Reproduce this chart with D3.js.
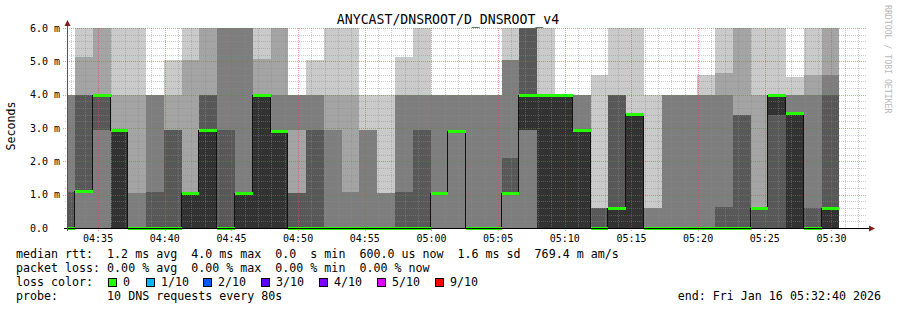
<!DOCTYPE html>
<html><head><meta charset="utf-8">
<script src="https://cdn.jsdelivr.net/npm/d3@7"></script>
<style>
body{margin:0;background:#fff}
svg{display:block}
text{font-family:"DejaVu Sans Mono",monospace;white-space:pre}
</style>
</head><body>
<svg id="c" width="897" height="310"></svg>
<script>
const title = "ANYCAST/DNSROOT/D_DNSROOT_v4";
const yAxisLabel = "Seconds";
const timeStart = "04:32:40", timeEnd = "05:32:40";
const firstStepEnd = "04:33:16";
const stepSeconds = 80;
const xTickLabels = ["04:35","04:40","04:45","04:50","04:55","05:00","05:05","05:10","05:15","05:20","05:25","05:30"];
const yTickValues = [0,1,2,3,4,5,6];
const yTickLabels = ["0.0","1.0 m","2.0 m","3.0 m","4.0 m","5.0 m","6.0 m"];
// ten ping RTT series cp1..cp10 (ms) per 80 s step; median = cp6
const pings = [
 [0,0,0,0,0,0,1.07,4.0,4.0,4.0],
 [0,0,0,1.1,1.1,1.1,4.0,4.0,5.12,6.0],
 [0,0,0,2.94,4.0,4.0,4.0,4.0,6.0,6.0],
 [0,0,0,0,0,2.94,2.94,2.94,4.0,6.0],
 [0,0,0,0,0,0,0,1.05,4.0,6.0],
 [0,0,0,0,0,0,1.09,4.0,4.0,4.0],
 [0,0,0,0,0,0,2.94,2.94,4.0,5.04],
 [0,0,0,0,0,1.04,1.04,1.04,5.04,6.0],
 [0,0,0,0,0,2.94,4.0,4.0,6.0,6.0],
 [0,0,0,0,0,0,2.94,6.0,6.0,6.0],
 [0,0,0,0,0,1.04,1.04,6.0,6.0,6.0],
 [0,0,0,0,0,4.0,4.0,4.0,5.06,6.0],
 [0,0,0,0,0,2.9,2.9,4.0,6.0,6.0],
 [0,0,2.94,0,0,0,1.05,4.0,4.0,4.0],
 [0,0,0,0,0,0,2.94,4.0,4.0,5.04],
 [0,0,0,0,0,0,0,2.94,4.0,6.0],
 [0,0,0,0,0,0,0,1.09,4.0,6.0],
 [0,0,0,0,0,0,0,2.94,2.94,4.0],
 [0,0,0,0,0,0,0,1.05,1.05,4.0],
 [0,0,0,0,0,0,1.08,4.0,4.0,5.12],
 [0,0,0,0,0,0,2.94,4.0,4.0,6.0],
 [0,0,0,1.05,1.05,1.05,1.05,4.0,4.0,4.0],
 [0,0,0,2.9,2.9,2.9,2.9,4.0,4.0,4.0],
 [0,0,0,0,0,0,0,4.0,4.0,4.0],
 [0,0,0,0,0,0,0,4.0,4.0,4.0],
 [0,0,0,1.05,1.05,1.05,2.1,5.04,5.04,6.0],
 [0,0,0,2.94,2.94,4.0,6.0,6.0,6.0,6.0],
 [0,0,0,0,0,4.0,4.0,4.0,4.0,6.0],
 [0,0,0,0,0,4.0,4.0,4.0,4.0,4.0],
 [0,0,0,0,0,2.94,2.94,4.0,4.0,4.0],
 [0,0,0,0,0,0,0.6,0.6,0.6,4.6],
 [0,0,0,0,0,0.6,4.0,4.0,4.0,6.0],
 [0,0,0,0,0,3.42,3.42,3.42,3.42,6.0],
 [0,0,0,0,0,0,0,0.6,0.6,4.0],
 [0,0,0,0,0,0,0,4.0,4.0,4.0],
 [0,0,0,0,0,0,0,4.0,4.0,4.0],
 [0,0,0,0,0,0,0,4.0,4.0,4.6],
 [0,0,0,0,0,0,0.62,4.0,4.65,6.0],
 [0,0,0,0,0,0,3.4,3.4,6.0,6.0],
 [0,0,0,0,0.6,0.6,0.6,0.6,4.0,6.0],
 [0,0,0,0,3.4,4.0,4.0,4.0,4.0,6.0],
 [0,0,0,0,0,3.44,3.44,4.0,4.0,4.54],
 [0,0,0,0,0,0,0.6,4.0,4.6,6.0],
 [0,0,0,0,0,0.6,4.0,4.6,6.0,6.0]
];
const lossLabels = ["0","1/10","2/10","3/10","4/10","5/10","9/10"];
const lossColors = ["#26ff00","#00b8ff","#0059ff","#5e00ff","#7e00ff","#dd00ff","#ff0000"];
const legendRtt = "median rtt:  1.2 ms avg  4.0 ms max  0.0  s min  600.0 us now  1.6 ms sd  769.4 m am/s";
const legendLoss = "packet loss: 0.00 % avg  0.00 % max  0.00 % min  0.00 % now";
const legendLossTitle = "loss color:";
const legendProbe = "probe:       10 DNS requests every 80s";
const legendEnd = "end: Fri Jan 16 05:32:40 2026";
const watermark = "RRDTOOL / TOBI OETIKER";

const smokeColors = ["#cacaca","#a4a4a4","#7e7e7e","#585858","#323232"];
const minorGridColor = "rgba(140,140,140,0.45)";
const majorGridColor = "rgba(225,70,70,0.55)";
const svg = d3.select("#c");
const toSec = s => { const [h,m,ss] = s.split(":").map(Number); return h*3600+m*60+ss; };
const tS = toSec(timeStart), tE = toSec(timeEnd);
const x = d3.scaleLinear().domain([tS, tE]).range([67, 867]);
const y = d3.scaleLinear().domain([0, 6]).range([228, 28]);
const tFirst = toSec(firstStepEnd);
const cols = pings.map((p, i) => ({
  p, med: p[5],
  t0: Math.max(tS, tFirst + (i - 1) * stepSeconds),
  t1: tFirst + i * stepSeconds
}));

// smoke: band k spans cp(k+1) .. cp(10-k)
const gS = svg.append("g").attr("shape-rendering", "crispEdges");
cols.forEach(c => {
  const x0 = Math.round(x(c.t0)), x1 = Math.round(x(c.t1));
  for (let k = 0; k < 5; k++) {
    const lo = c.p[k], hi = c.p[9 - k];
    if (hi <= lo) continue;
    const y0 = Math.round(y(hi)), y1 = Math.round(y(lo));
    gS.append("rect").attr("x", x0).attr("y", y0).attr("width", x1 - x0)
      .attr("height", y1 - y0).attr("fill", smokeColors[k]);
  }
});

// grid
const gG = svg.append("g").attr("shape-rendering", "crispEdges");
const minorY = d3.range(1, 30).map(i => i * 0.2).filter(v => Math.abs(v - Math.round(v)) > 1e-6);
minorY.forEach(v => {
  const yy = Math.round(y(v)) + 0.5;
  gG.append("line").attr("x1", 65).attr("x2", 867).attr("y1", yy).attr("y2", yy)
    .attr("stroke", minorGridColor).attr("stroke-dasharray", "1,1");
});
const minuteTicks = d3.range(Math.ceil(tS / 60) * 60, tE, 60);
minuteTicks.filter(t => t % 300 !== 0).forEach(t => {
  const xx = Math.round(x(t)) + 0.5;
  gG.append("line").attr("x1", xx).attr("x2", xx).attr("y1", 28).attr("y2", 230)
    .attr("stroke", minorGridColor).attr("stroke-dasharray", "1,1");
});
yTickValues.filter(v => v > 0).forEach(v => {
  const yy = Math.round(y(v)) + 0.5;
  gG.append("line").attr("x1", 63).attr("x2", 867).attr("y1", yy).attr("y2", yy)
    .attr("stroke", majorGridColor).attr("stroke-dasharray", "1,1");
});
const majorTicks = minuteTicks.filter(t => t % 300 === 0);
majorTicks.forEach(t => {
  const xx = Math.round(x(t)) + 0.5;
  gG.append("line").attr("x1", xx).attr("x2", xx).attr("y1", 28).attr("y2", 232)
    .attr("stroke", majorGridColor).attr("stroke-dasharray", "1,1");
});

// median line
const medPts = cols.map(c => [Math.round(x(c.t0)), c.med]);
medPts.push([Math.round(x(cols[cols.length - 1].t1)), cols[cols.length - 1].med]);
const line = d3.line().x(d => d[0] - 0.5).y(d => Math.round(y(d[1])) + 0.5).curve(d3.curveStepAfter);
svg.append("path").attr("d", line(medPts)).attr("fill", "none").attr("stroke", "#111")
  .attr("stroke-width", 1).attr("shape-rendering", "crispEdges");
const gM = svg.append("g").attr("shape-rendering", "crispEdges");
cols.forEach(c => {
  const x0 = Math.round(x(c.t0)), x1 = Math.round(x(c.t1));
  gM.append("rect").attr("x", x0).attr("y", Math.round(y(c.med)) - 1).attr("width", x1 - x0)
    .attr("height", 3).attr("fill", lossColors[0]);
});

// axes
const gA = svg.append("g").attr("shape-rendering", "crispEdges");
gA.append("line").attr("x1", 64).attr("x2", 870).attr("y1", 228.5).attr("y2", 228.5).attr("stroke", "#000");
gA.append("line").attr("x1", 67.5).attr("x2", 67.5).attr("y1", 231).attr("y2", 24).attr("stroke", "#555");
svg.append("path").attr("d", "M67.5,20 L70.5,26 L64.5,26 Z").attr("fill", "#8b1a1a");
svg.append("path").attr("d", "M875,228.5 L869,225.5 L869,231.5 Z").attr("fill", "#8b1a1a");

// y tick labels
yTickValues.forEach((v, i) => {
  svg.append("text").attr("x", 30).attr("y", y(v) + 3.6).attr("font-size", 10)
    .attr("fill", "#000").text(yTickLabels[i]);
});
// x tick labels
majorTicks.forEach((t, i) => {
  svg.append("text").attr("x", x(t)).attr("y", 242).attr("font-size", 10)
    .attr("text-anchor", "middle").attr("fill", "#000").text(xTickLabels[i]);
});
// title
svg.append("text").attr("x", 448).attr("y", 24).attr("font-size", 13.2)
  .attr("text-anchor", "middle").attr("fill", "#000").text(title);
// y axis label
svg.append("text").attr("transform", "translate(15,126) rotate(-90)").attr("font-size", 11.6)
  .attr("text-anchor", "middle").attr("fill", "#000").text(yAxisLabel);
// watermark
svg.append("text").attr("transform", "translate(885,5) rotate(90)").attr("font-size", 8.2)
  .attr("fill", "#b8b8b8").text(watermark);

// legend
const fs = 11.65;
svg.append("text").attr("x", 16).attr("y", 258).attr("font-size", fs).text(legendRtt);
svg.append("text").attr("x", 16).attr("y", 272).attr("font-size", fs).text(legendLoss);
svg.append("text").attr("x", 16).attr("y", 286).attr("font-size", fs).text(legendLossTitle);
const boxX = [108, 146, 203, 261, 319, 377, 435];
lossLabels.forEach((l, i) => {
  svg.append("rect").attr("x", boxX[i] + 0.5).attr("y", 278.5).attr("width", 8).attr("height", 8)
    .attr("fill", lossColors[i]).attr("stroke", "#000").attr("stroke-width", 1)
    .attr("shape-rendering", "crispEdges");
  svg.append("text").attr("x", boxX[i] + 15).attr("y", 286).attr("font-size", fs).text(l);
});
svg.append("text").attr("x", 16).attr("y", 300).attr("font-size", fs).text(legendProbe);
svg.append("text").attr("x", 881).attr("y", 300).attr("font-size", fs)
  .attr("text-anchor", "end").text(legendEnd);
</script>
</body></html>
